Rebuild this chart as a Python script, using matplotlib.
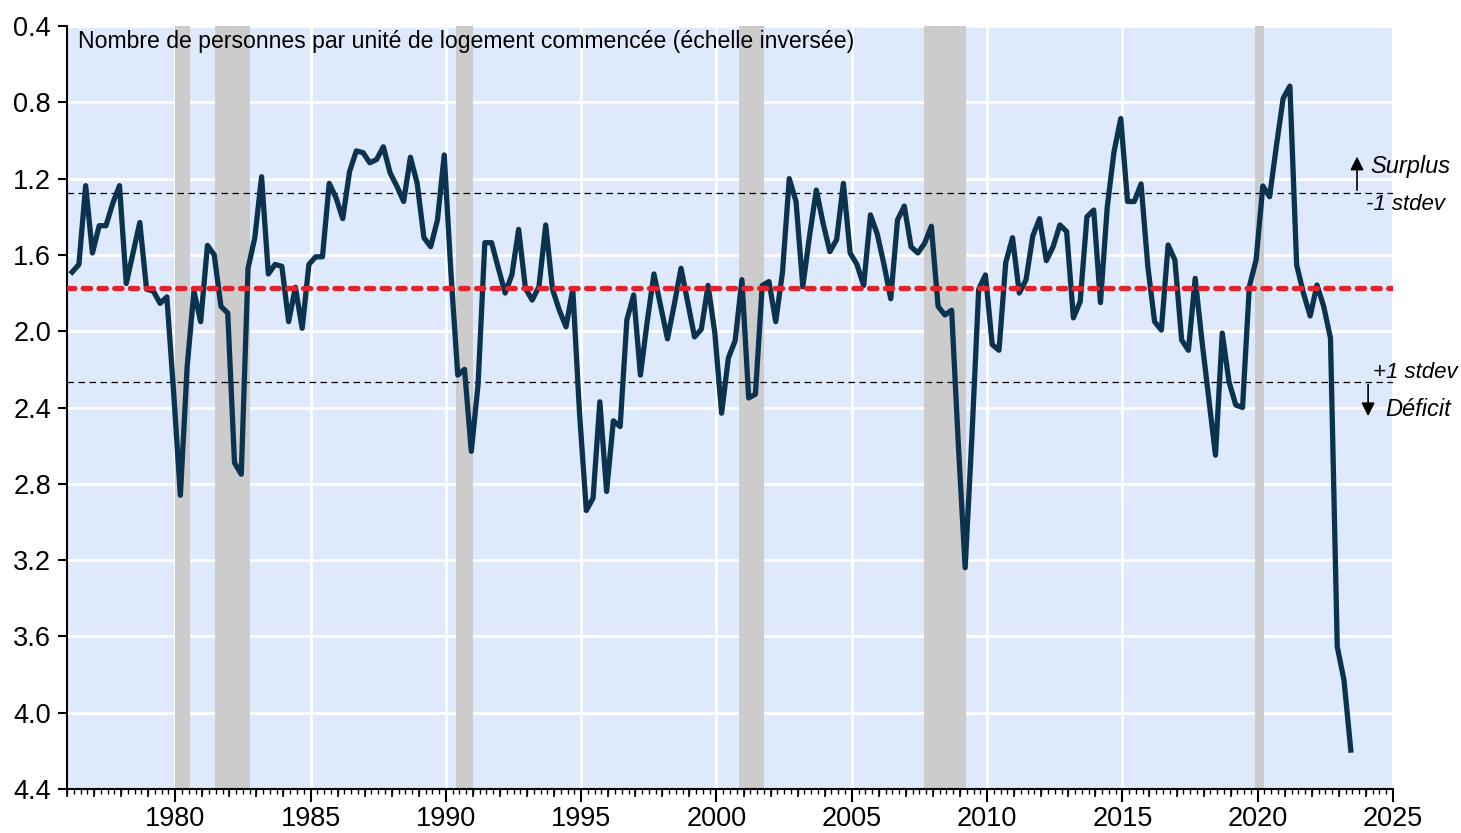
import matplotlib.pyplot as plt
import numpy as np
from matplotlib.ticker import MultipleLocator, FormatStrFormatter, NullLocator

plt.rcParams['font.family'] = ['Liberation Sans', 'DejaVu Sans']

# persons per housing start, quarterly from 1976Q2 (inverted scale)
values = [1.69, 1.65, 1.237, 1.59, 1.447, 1.447, 1.33, 1.237, 1.75, 1.59,
          1.43, 1.78, 1.79, 1.854, 1.82, 2.32, 2.86, 2.186, 1.79, 1.95,
          1.55, 1.60, 1.87, 1.905, 2.69, 2.75, 1.67, 1.51, 1.19, 1.70,
          1.65, 1.66, 1.95, 1.77, 1.985, 1.65, 1.61, 1.61, 1.225, 1.30,
          1.41, 1.164, 1.055, 1.064, 1.117, 1.10, 1.033, 1.17, 1.24, 1.32,
          1.088, 1.225, 1.51, 1.557, 1.417, 1.076, 1.70, 2.23, 2.20, 2.63,
          2.28, 1.536, 1.536, 1.67, 1.80, 1.705, 1.466, 1.775, 1.837, 1.767,
          1.443, 1.78, 1.889, 1.977, 1.78, 2.43, 2.94, 2.875, 2.37, 2.84,
          2.47, 2.50, 1.94, 1.81, 2.23, 1.95, 1.70, 1.87, 2.04, 1.86,
          1.67, 1.85, 2.03, 1.99, 1.76, 2.01, 2.43, 2.14, 2.05, 1.73,
          2.35, 2.33, 1.76, 1.74, 1.95, 1.69, 1.20, 1.32, 1.767, 1.50,
          1.26, 1.434, 1.583, 1.52, 1.225, 1.59, 1.65, 1.76, 1.39, 1.49,
          1.65, 1.83, 1.417, 1.344, 1.557, 1.59, 1.54, 1.45, 1.87, 1.915,
          1.89, 2.60, 3.24, 2.55, 1.78, 1.705, 2.07, 2.10, 1.64, 1.51,
          1.80, 1.73, 1.50, 1.41, 1.63, 1.557, 1.443, 1.478, 1.93, 1.845,
          1.40, 1.365, 1.85, 1.35, 1.06, 0.885, 1.32, 1.32, 1.228, 1.66,
          1.95, 1.994, 1.548, 1.627, 2.046, 2.10, 1.723, 2.05, 2.35, 2.65,
          2.01, 2.265, 2.387, 2.40, 1.767, 1.627, 1.239, 1.295, 1.03, 0.78,
          0.715, 1.653, 1.80, 1.92, 1.758, 1.87, 2.037, 3.654, 3.83, 4.196]
quarters = 1976.19 + 0.25 * np.arange(len(values))

mean_level = 1.775
minus_sd = 1.275
plus_sd = 2.265

recessions = [(1980.0, 1980.55), (1981.47, 1982.77), (1990.39, 1991.02),
              (2000.85, 2001.74), (2007.66, 2009.21), (2019.9, 2020.24)]

title = 'Nombre de personnes par unité de logement commencée (échelle inversée)'

fig = plt.figure(figsize=(14.61, 8.33), dpi=100)
ax = fig.add_axes([67 / 1461, 44 / 833, 1326 / 1461, 763 / 833])
ax.set_facecolor('#dee9fb')

for a, b in recessions:
    ax.axvspan(a, b, color='#cccccc', lw=0, zorder=1)

ax.axhline(minus_sd, color='black', lw=0.9, dashes=(5.2, 3.6), zorder=2)
ax.axhline(plus_sd, color='black', lw=0.9, dashes=(5.2, 3.6), zorder=2)
ax.plot(quarters, values, color='#0b3350', lw=3.8, zorder=3)
ax.axhline(mean_level, color='#e32229', lw=3.8, dashes=(1.4, 1.58),
           dash_capstyle='round', zorder=4)

ax.set_xlim(1976, 2025)
ax.set_ylim(4.4, 0.4)
ax.yaxis.set_major_locator(MultipleLocator(0.4))
ax.yaxis.set_major_formatter(FormatStrFormatter('%.1f'))
ax.xaxis.set_major_locator(MultipleLocator(5))
ax.xaxis.set_minor_locator(MultipleLocator(0.25))
ax.set_axisbelow(True)
ax.grid(True, which='major', color='white', lw=2)

for s in ['top', 'right']:
    ax.spines[s].set_visible(False)
for s in ['left', 'bottom']:
    ax.spines[s].set_linewidth(1.5)

ax.tick_params(axis='x', which='major', length=9, width=1.5, pad=3, labelsize=19.5)
ax.tick_params(axis='x', which='minor', length=3.6, width=1)
ax.tick_params(axis='y', which='major', length=6.5, width=1.5, pad=5, labelsize=19.5)

# yearly ticks, a bit longer than the quarterly ones
sec = ax.secondary_xaxis('bottom')
sec.set_xticks(np.arange(1976, 2026))
sec.xaxis.set_minor_locator(NullLocator())
sec.tick_params(length=6, width=1.2, labelbottom=False)
sec.spines['bottom'].set_visible(False)

ax.text(0.0083, 0.980, title, transform=ax.transAxes, fontsize=16.6, va='center')

arrow = dict(arrowstyle='-|>', color='black', lw=1.2, mutation_scale=20)
ax.annotate('', xy=(2023.67, 1.07), xytext=(2023.67, minus_sd),
            arrowprops=arrow, annotation_clip=False)
ax.annotate('', xy=(2024.08, 2.46), xytext=(2024.08, plus_sd),
            arrowprops=arrow, annotation_clip=False)
ax.text(2024.15, 1.134, 'Surplus', fontsize=17, style='italic', va='center')
ax.text(2024.0, 1.335, '-1 stdev', fontsize=16, style='italic', va='center')
ax.text(2024.26, 2.214, '+1 stdev', fontsize=16, style='italic', va='center')
ax.text(2024.7, 2.408, 'Déficit', fontsize=17, style='italic', va='center')

plt.savefig('out.png')
